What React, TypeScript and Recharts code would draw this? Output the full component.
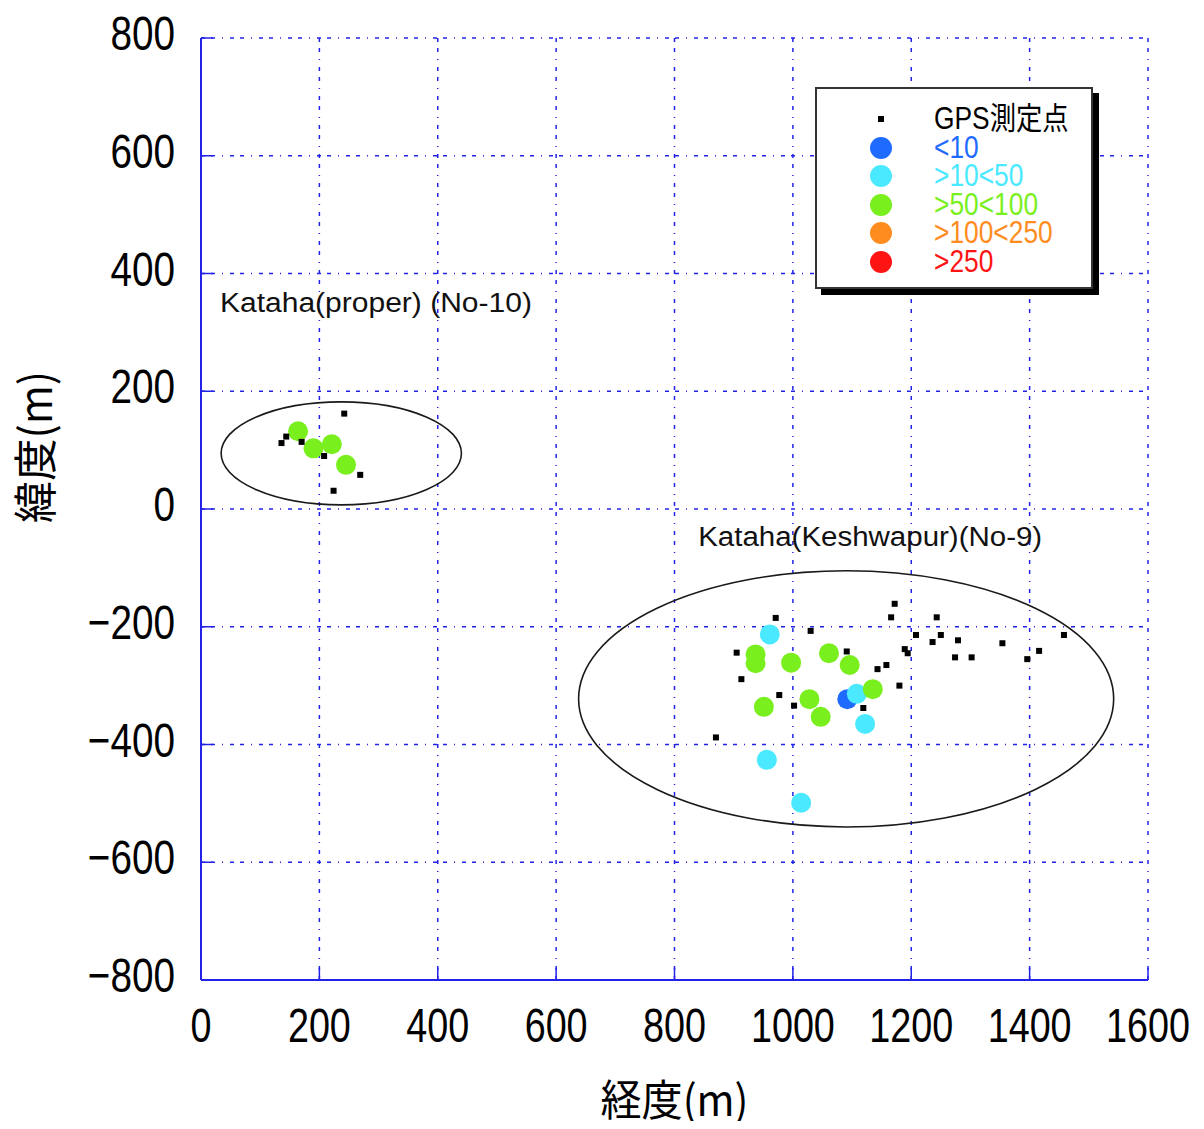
import React from "react";
import {
  ScatterChart,
  Scatter,
  XAxis,
  YAxis,
  CartesianGrid,
  Legend,
  ReferenceArea,
  ReferenceDot,
} from "recharts";

// ---------- data ----------
const xTicks = [0, 200, 400, 600, 800, 1000, 1200, 1400, 1600];
const yTicks = [-800, -600, -400, -200, 0, 200, 400, 600, 800];

const gpsX = [242, 144, 136, 170, 208, 269, 224, 971, 1030, 905, 913, 977, 1002, 870, 1091, 1119, 1172, 1166, 1208, 1189, 1194, 1158, 1143, 1180, 1243, 1250, 1236, 1279, 1354, 1274, 1302, 1396, 1416, 1458];
const gpsY = [162, 123, 112, 114, 90, 58, 31, -185, -207, -244, -289, -316, -334, -388, -242, -338, -161, -184, -214, -238, -245, -265, -272, -300, -184, -214, -226, -223, -228, -252, -252, -255, -241, -214];

const blueX = [1092];
const blueY = [-323];

const cyanX = [961, 956, 1014, 1122, 1108];
const cyanY = [-213, -426, -499, -365, -314];

const greenX = [164, 190, 221, 245, 937, 937, 997, 1061, 1096, 1135, 951, 1028, 1047];
const greenY = [132, 103, 110, 75, -247, -262, -261, -245, -265, -306, -336, -323, -353];

const orangeX: number[] = [];
const orangeY: number[] = [];
const redX: number[] = [];
const redY: number[] = [];

const seriesNames = ["GPS測定点", "<10", ">10<50", ">50<100", ">100<250", ">250"];
const seriesColors = ["#000000", "#1f6bff", "#4ae9ff", "#7aef1e", "#ff8c1e", "#ff1414"];

const ellipseX1 = [34, 638];
const ellipseX2 = [440, 1542];
const ellipseY1 = [7, -540];
const ellipseY2 = [182, -105];

const noteTexts = ["Kataha(proper) (No-10)", "Kataha(Keshwapur)(No-9)"];
const noteX = [32, 840];
const noteY = [334, -63];
const noteWidths = [312, 344];

const xTitle = "経度(m)";
const yTitle = "緯度(m)";

// ---------- helpers ----------
const zip = (xs: number[], ys: number[]) => xs.map((x, i) => ({ x, y: ys[i] }));

const gpsData = zip(gpsX, gpsY);
const blueData = zip(blueX, blueY);
const cyanData = zip(cyanX, cyanY);
const greenData = zip(greenX, greenY);
const orangeData = zip(orangeX, orangeY);
const redData = zip(redX, redY);

const FRAME = "#2323e8";
const TICK_LEN = 12;
const NUM_FONT = "'Liberation Sans', Arial, sans-serif";
const fmt = (v: number) => (v < 0 ? "\u2212" + Math.abs(v) : String(v));

const XTick = (props: any) => {
  const { x, y, payload } = props;
  return (
    <g>
      <line x1={x} y1={y} x2={x} y2={y - TICK_LEN} stroke={FRAME} strokeWidth={1.5} />
      <text
        transform={`translate(${x},${y + 62}) scale(0.77,1)`}
        textAnchor="middle"
        fontSize={49}
        fontFamily={NUM_FONT}
        fill="#000"
      >
        {fmt(payload.value)}
      </text>
    </g>
  );
};

const YTick = (props: any) => {
  const { x, y, payload } = props;
  return (
    <g>
      <line x1={x} y1={y} x2={x + TICK_LEN} y2={y} stroke={FRAME} strokeWidth={1.5} />
      <text
        transform={`translate(${x - 26},${y + 12}) scale(0.79,1)`}
        textAnchor="end"
        fontSize={49}
        fontFamily={NUM_FONT}
        fill="#000"
      >
        {fmt(payload.value)}
      </text>
    </g>
  );
};

const TopTick = (props: any) => {
  const { x, y } = props;
  return <line x1={x} y1={y} x2={x} y2={y + TICK_LEN} stroke={FRAME} strokeWidth={1.5} />;
};

const RightTick = (props: any) => {
  const { x, y } = props;
  return <line x1={x} y1={y} x2={x - TICK_LEN} y2={y} stroke={FRAME} strokeWidth={1.5} />;
};

const squareShape = (props: any) => (
  <rect x={props.cx - 3} y={props.cy - 3} width={6} height={6} fill="#000" />
);
const circleShape = (color: string) => (props: any) => (
  <circle cx={props.cx} cy={props.cy} r={10} fill={color} />
);

const ellipseShape = (props: any) => {
  const { x, y, width, height } = props;
  return (
    <ellipse
      cx={x + width / 2}
      cy={y + height / 2}
      rx={Math.abs(width) / 2}
      ry={Math.abs(height) / 2}
      fill="none"
      stroke="#1a1a1a"
      strokeWidth={1.6}
    />
  );
};

const noteShape = (text: string, w: number) => (props: any) => (
  <text
    x={props.cx}
    y={props.cy}
    fontSize={27}
    fontFamily={NUM_FONT}
    fill="#111"
    textLength={w}
    lengthAdjust="spacingAndGlyphs"
  >
    {text}
  </text>
);

const XTitle = (props: any) => {
  const vb = props.viewBox;
  return (
    <text
      x={vb.x + vb.width / 2}
      y={vb.y + 136}
      textAnchor="middle"
      fontSize={43}
      fontFamily="'Noto Sans CJK JP', sans-serif"
      fill="#000"
      textLength={148}
      lengthAdjust="spacingAndGlyphs"
    >
      {xTitle}
    </text>
  );
};

const YTitle = (props: any) => {
  const vb = props.viewBox;
  const cx = vb.x + 52;
  const cy = vb.y + vb.height / 2 - 62;
  return (
    <text
      transform={`translate(${cx},${cy}) rotate(-90)`}
      textAnchor="middle"
      fontSize={44}
      fontFamily="'Noto Sans CJK JP', sans-serif"
      fill="#000"
      textLength={152}
      lengthAdjust="spacingAndGlyphs"
    >
      {yTitle}
    </text>
  );
};

const LegendBox = (props: any) => {
  const payload: any[] = props.payload || [];
  const items = seriesNames
    .map((n) => payload.find((p) => p.value === n))
    .filter(Boolean);
  return (
    <div
      style={{
        position: "relative",
        width: 274,
        height: 198,
        background: "#fff",
        border: "2px solid #333",
        boxShadow: "6px 6px 0 #000",
      }}
    >
      {items.map((it: any, i: number) => {
        const cy = 30 + i * 28.6;
        const isGps = it.value === seriesNames[0];
        return (
          <React.Fragment key={it.value}>
            {isGps ? (
              <div
                style={{
                  position: "absolute",
                  left: 64 - 3,
                  top: cy - 3,
                  width: 6,
                  height: 6,
                  background: "#000",
                }}
              />
            ) : (
              <div
                style={{
                  position: "absolute",
                  left: 64 - 11,
                  top: cy - 11,
                  width: 22,
                  height: 22,
                  borderRadius: "50%",
                  background: it.color,
                }}
              />
            )}
            <span
              style={{
                position: "absolute",
                left: 117,
                top: cy - 14,
                height: 28,
                lineHeight: "28px",
                fontSize: 31,
                whiteSpace: "nowrap",
                fontFamily: "'Liberation Sans', 'Noto Sans CJK JP', sans-serif",
                color: it.color,
                transform: "scaleX(0.85)",
                transformOrigin: "left center",
              }}
            >
              {it.value}
            </span>
          </React.Fragment>
        );
      })}
    </div>
  );
};

export default function App() {
  return (
    <div style={{ width: 1204, height: 1129, margin: -8, background: "#fff", position: "relative" }}>
      <ScatterChart
        width={1204}
        height={1129}
        margin={{ top: 38, right: 56, bottom: 0, left: 0 }}
      >
        <CartesianGrid
          stroke={FRAME}
          strokeWidth={1.5}
          strokeDasharray="4 6 4 7 1 7"
        />
        <XAxis
          type="number"
          dataKey="x"
          domain={[0, 1600]}
          ticks={xTicks}
          interval={0}
          height={149}
          tickSize={0}
          tickMargin={0}
          tickLine={false}
          axisLine={{ stroke: FRAME, strokeWidth: 2 }}
          tick={<XTick />}
          label={<XTitle />}
        />
        <XAxis
          xAxisId="top"
          orientation="top"
          type="number"
          dataKey="x"
          domain={[0, 1600]}
          ticks={xTicks}
          interval={0}
          height={0}
          tickSize={0}
          tickMargin={0}
          tickLine={false}
          axisLine={{ stroke: FRAME, strokeWidth: 2 }}
          tick={<TopTick />}
        />
        <YAxis
          type="number"
          dataKey="y"
          domain={[-800, 800]}
          ticks={yTicks}
          interval={0}
          width={201}
          tickSize={0}
          tickMargin={0}
          tickLine={false}
          axisLine={{ stroke: FRAME, strokeWidth: 2 }}
          tick={<YTick />}
          label={<YTitle />}
        />
        <YAxis
          yAxisId="right"
          orientation="right"
          type="number"
          dataKey="y"
          domain={[-800, 800]}
          ticks={yTicks}
          interval={0}
          width={0}
          tickSize={0}
          tickMargin={0}
          tickLine={false}
          axisLine={{ stroke: FRAME, strokeWidth: 2 }}
          tick={<RightTick />}
        />
        {ellipseX1.map((x1, i) => (
          <ReferenceArea
            key={"e" + i}
            x1={x1}
            x2={ellipseX2[i]}
            y1={ellipseY1[i]}
            y2={ellipseY2[i]}
            ifOverflow="visible"
            shape={ellipseShape}
          />
        ))}
        {noteTexts.map((t, i) => (
          <ReferenceDot
            key={"n" + i}
            x={noteX[i]}
            y={noteY[i]}
            r={0}
            ifOverflow="visible"
            shape={noteShape(t, noteWidths[i])}
          />
        ))}
        <Scatter name={seriesNames[1]} data={blueData} fill={seriesColors[1]} legendType="circle" shape={circleShape(seriesColors[1])} isAnimationActive={false} />
        <Scatter name={seriesNames[2]} data={cyanData} fill={seriesColors[2]} legendType="circle" shape={circleShape(seriesColors[2])} isAnimationActive={false} />
        <Scatter name={seriesNames[3]} data={greenData} fill={seriesColors[3]} legendType="circle" shape={circleShape(seriesColors[3])} isAnimationActive={false} />
        <Scatter name={seriesNames[4]} data={orangeData} fill={seriesColors[4]} legendType="circle" shape={circleShape(seriesColors[4])} isAnimationActive={false} />
        <Scatter name={seriesNames[5]} data={redData} fill={seriesColors[5]} legendType="circle" shape={circleShape(seriesColors[5])} isAnimationActive={false} />
        <Scatter name={seriesNames[0]} data={gpsData} fill={seriesColors[0]} legendType="square" shape={squareShape} isAnimationActive={false} />
        <Legend
          layout="vertical"
          align="center"
          verticalAlign="middle"
          content={<LegendBox />}
          wrapperStyle={{ position: "absolute", left: 815, top: 87, width: "auto", height: "auto" }}
        />
      </ScatterChart>
    </div>
  );
}
